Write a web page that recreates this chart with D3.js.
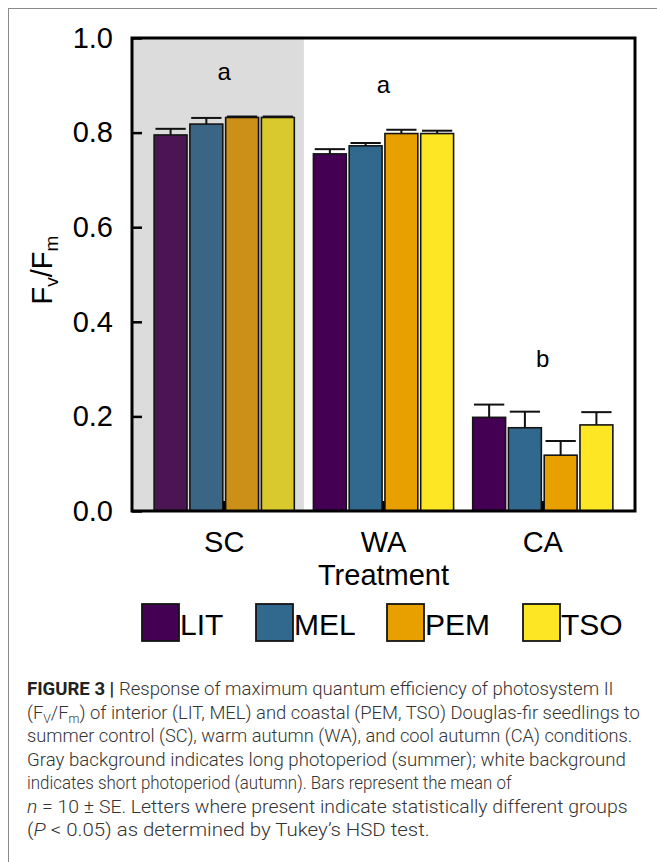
<!DOCTYPE html>
<html>
<head>
<meta charset="utf-8">
<script src="https://cdn.jsdelivr.net/npm/d3@7"></script>
<style>
  body { margin: 0; background: #fff; }
  svg { display: block; }
</style>
</head>
<body>
<div id="chart"></div>
<script>
// data
const treatments = ["SC", "WA", "CA"]
const provenances = ["LIT", "MEL", "PEM", "TSO"]
const meanSC = [0.795, 0.818, 0.832, 0.832]
const meanWA = [0.755, 0.772, 0.798, 0.798]
const meanCA = [0.198, 0.176, 0.118, 0.182]
const seSC = [0.013, 0.013, 0.002, 0.002]
const seWA = [0.010, 0.006, 0.008, 0.006]
const seCA = [0.027, 0.034, 0.030, 0.027]
const groupLetters = ["a", "a", "b"]
const letterPos = [0.911, 0.884, 0.304]
const yTicks = [0, 0.2, 0.4, 0.6, 0.8, 1.0]

const colors = ["#440154", "#31688e", "#e8a000", "#fde725"]
const colorsSC = ["#4b1553", "#3b6584", "#cc8f17", "#dac92e"]

const width = 657, height = 862
const padding = { top: 38, right: 22, bottom: 351, left: 132 }

const means = [meanSC, meanWA, meanCA]
const ses = [seSC, seWA, seCA]
const data = []
treatments.forEach((t, i) => {
    provenances.forEach((p, j) => {
        data.push({ treatment: t, prov: p, mean: means[i][j], se: ses[i][j], sc: i === 0, j: j })
    })
})

const svg = d3.select('#chart')
    .append('svg')
    .attr('width', width)
    .attr('height', height)

// outer figure frame
svg.append('rect')
    .attr('x', 8.5).attr('y', 8.5)
    .attr('width', 700).attr('height', 900)
    .attr('fill', 'none')
    .attr('stroke', '#8a8a8a')
    .attr('stroke-width', 1)

const x0 = d3.scaleBand()
    .domain(treatments)
    .range([padding.left, width - padding.right])
    .paddingInner(0.12)
    .paddingOuter(0.139)
const x1 = d3.scaleBand()
    .domain(provenances)
    .range([0, x0.bandwidth()])
    .paddingInner(0.08)
const yScale = d3.scaleLinear()
    .domain([0, 1])
    .range([height - padding.bottom, padding.top])

// gray background for long photoperiod
const grayEnd = x0("SC") + x0.bandwidth() + x0.step() * x0.paddingInner() / 2
svg.append('rect')
    .attr('x', padding.left)
    .attr('y', padding.top)
    .attr('width', grayEnd - padding.left)
    .attr('height', yScale(0) - padding.top)
    .attr('fill', '#dcdcdc')

// bars
svg.append('g')
    .selectAll('rect')
    .data(data)
    .join('rect')
    .attr('x', d => x0(d.treatment) + x1(d.prov))
    .attr('y', d => yScale(d.mean))
    .attr('width', x1.bandwidth())
    .attr('height', d => yScale(0) - yScale(d.mean))
    .attr('fill', d => d.sc ? colorsSC[d.j] : colors[d.j])
    .attr('stroke', '#141414')
    .attr('stroke-width', 1.6)

// error bars (upper half only)
const capW = x1.bandwidth() * 0.92
const eb = svg.append('g')
    .attr('stroke', '#111')
    .attr('stroke-width', 2)
eb.selectAll('line.v')
    .data(data)
    .join('line')
    .attr('class', 'v')
    .attr('x1', d => x0(d.treatment) + x1(d.prov) + x1.bandwidth() / 2)
    .attr('x2', d => x0(d.treatment) + x1(d.prov) + x1.bandwidth() / 2)
    .attr('y1', d => yScale(d.mean))
    .attr('y2', d => yScale(d.mean + d.se))
eb.selectAll('line.cap')
    .data(data)
    .join('line')
    .attr('class', 'cap')
    .attr('x1', d => x0(d.treatment) + x1(d.prov) + x1.bandwidth() / 2 - capW / 2)
    .attr('x2', d => x0(d.treatment) + x1(d.prov) + x1.bandwidth() / 2 + capW / 2)
    .attr('y1', d => yScale(d.mean + d.se))
    .attr('y2', d => yScale(d.mean + d.se))

// significance letters
svg.append('g')
    .selectAll('text')
    .data(treatments)
    .join('text')
    .attr('x', d => x0(d) + x0.bandwidth() / 2)
    .attr('y', (d, i) => yScale(letterPos[i]))
    .attr('text-anchor', 'middle')
    .attr('font-family', 'Liberation Sans, Arial, sans-serif')
    .attr('font-size', 24)
    .text((d, i) => groupLetters[i])

// axes
const yAxis = d3.axisLeft(yScale)
    .tickValues(yTicks)
    .tickFormat(d3.format('.1f'))
    .tickSizeInner(-10)
    .tickSizeOuter(0)
    .tickPadding(19)
const gy = svg.append('g')
    .attr('transform', 'translate(' + padding.left + ',0)')
    .call(yAxis)
const xAxis = d3.axisBottom(x0)
    .tickSizeInner(-10)
    .tickSizeOuter(0)
    .tickPadding(20)
const gx = svg.append('g')
    .attr('transform', 'translate(0,' + yScale(0) + ')')
    .call(xAxis)
;[gx, gy].forEach(g => {
    g.select('.domain').remove()
    g.selectAll('line').attr('stroke', '#000').attr('stroke-width', 2.5)
    g.selectAll('text')
        .attr('font-family', 'Liberation Sans, Arial, sans-serif')
        .attr('font-size', 29)
        .attr('fill', '#000')
})

// plot frame
svg.append('rect')
    .attr('x', padding.left)
    .attr('y', padding.top)
    .attr('width', width - padding.right - padding.left)
    .attr('height', yScale(0) - padding.top)
    .attr('fill', 'none')
    .attr('stroke', '#000')
    .attr('stroke-width', 3)

// axis titles
svg.append('text')
    .attr('x', (padding.left + width - padding.right) / 2)
    .attr('y', 585)
    .attr('text-anchor', 'middle')
    .attr('font-family', 'Liberation Sans, Arial, sans-serif')
    .attr('font-size', 29)
    .text('Treatment')

const yl = svg.append('text')
    .attr('transform', 'translate(52,270) rotate(-90)')
    .attr('text-anchor', 'middle')
    .attr('font-family', 'Liberation Sans, Arial, sans-serif')
    .attr('font-size', 29)
yl.append('tspan').text('F')
yl.append('tspan').attr('font-size', 19).attr('dy', 6).text('v')
yl.append('tspan').attr('dy', -6).text('/F')
yl.append('tspan').attr('font-size', 19).attr('dy', 6).text('m')

// legend
const legendX = [142, 256, 387, 523]
const lg = svg.append('g')
    .selectAll('g')
    .data(provenances)
    .join('g')
    .attr('transform', (d, i) => 'translate(' + legendX[i] + ',604)')
lg.append('rect')
    .attr('width', 37).attr('height', 37)
    .attr('fill', (d, i) => colors[i])
    .attr('stroke', '#141414')
    .attr('stroke-width', 1.8)
lg.append('text')
    .attr('x', 38)
    .attr('y', 31)
    .attr('font-family', 'Liberation Sans, Arial, sans-serif')
    .attr('font-size', 30)
    .text(d => d)

// caption
const caption = [
    [["FIGURE 3 | ", "b"], ["Response of maximum quantum efficiency of photosystem II", ""]],
    [["(F", ""], ["V", "sub"], ["/F", ""], ["m", "sub"], [") of interior (LIT, MEL) and coastal (PEM, TSO) Douglas-fir seedlings to", ""]],
    [["summer control (SC), warm autumn (WA), and cool autumn (CA) conditions.", ""]],
    [["Gray background indicates long photoperiod (summer); white background", ""]],
    [["indicates short photoperiod (autumn). Bars represent the mean of", ""]],
    [["n", "i"], [" = 10 \u00b1 SE. Letters where present indicate statistically different groups", ""]],
    [["(", ""], ["P", "i"], [" < 0.05) as determined by Tukey\u2019s HSD test.", ""]]
]
// right end of each caption line in the figure
const lineEnds = [614, 640, 633, 626, 512, 628, 430]
const capX = 27
const capLines = svg.append('g')
    .selectAll('text')
    .data(caption)
    .join('text')
    .attr('x', 0)
    .attr('y', 0)
    .attr('font-family', 'Roboto, sans-serif')
    .attr('font-weight', 300)
    .attr('font-size', 18)
    .attr('fill', '#333')
capLines.each(function (segs, i) {
    const t = d3.select(this)
    let shifted = false
    segs.forEach(s => {
        const sp = t.append('tspan').text(s[0])
        if (s[1] === 'b') sp.attr('font-weight', 700).attr('fill', '#222')
        if (s[1] === 'i') sp.attr('font-style', 'italic')
        if (s[1] === 'sub') {
            sp.attr('font-size', 12).attr('dy', 4)
            shifted = true
        } else if (shifted) {
            sp.attr('dy', -4)
            shifted = false
        }
    })
    const sx = (lineEnds[i] - capX) / this.getComputedTextLength()
    t.attr('transform', 'translate(' + capX + ',' + (695 + i * 23.5) + ') scale(' + sx + ',1)')
})
</script>
</body>
</html>
